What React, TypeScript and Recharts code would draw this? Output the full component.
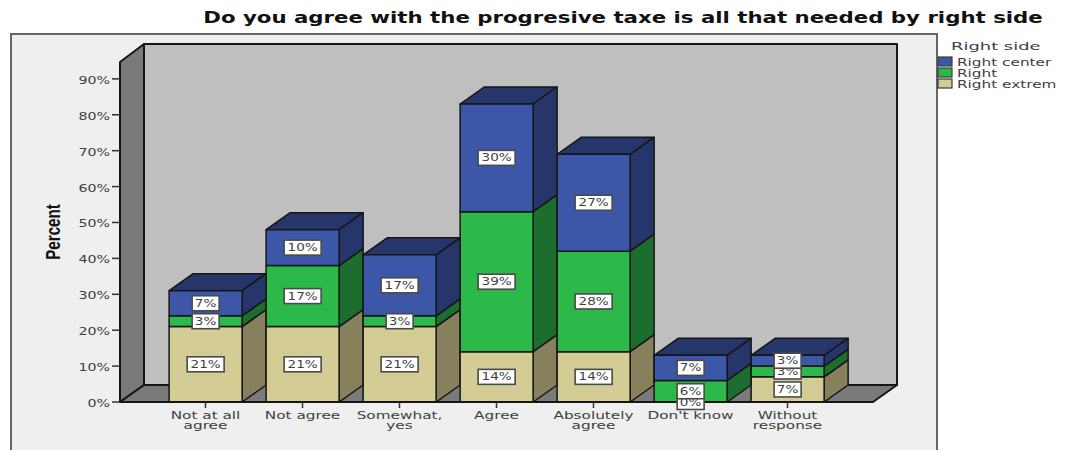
import React from "react";
import { Bar, BarChart, Customized, LabelList, Legend, XAxis, YAxis, usePlotArea } from "recharts";

const categories = ["Not at all|agree", "Not agree", "Somewhat,|yes", "Agree", "Absolutely|agree", "Don't know", "Without|response"];
const rightExtrem = [21, 21, 21, 14, 14, 0, 7];
const right = [3, 17, 3, 39, 28, 6, 3];
const rightCenter = [7, 10, 17, 30, 27, 7, 3];
const yTicks = [0, 10, 20, 30, 40, 50, 60, 70, 80, 90];

const rows = categories.map((name, i) => ({
  name,
  "Right extrem": rightExtrem[i],
  Right: right[i],
  "Right center": rightCenter[i],
}));

const DX = 24;
const DY = 17;
const EDGE = "#161616";
const FONT = "'DejaVu Sans', sans-serif";
const TEXT = "#3f3f3f";

// A stacked segment as a box: front face, right face and, on the top series, a lid.
const box = (side: string, lid: boolean) => (p: any) => {
  const { x, y, width: w, height: h, fill } = p;
  if (!h || h <= 0) return <g />;
  return (
    <g stroke={EDGE} strokeWidth={1.5} strokeLinejoin="round">
      {lid && <polygon fill={side} points={`${x},${y} ${x + DX},${y - DY} ${x + w + DX},${y - DY} ${x + w},${y}`} />}
      <polygon fill={side} points={`${x + w},${y} ${x + w + DX},${y - DY} ${x + w + DX},${y + h - DY} ${x + w},${y + h}`} />
      <rect x={x} y={y} width={w} height={h} fill={fill} />
    </g>
  );
};

// White value tag centred on its segment.
const tag = (p: any) => {
  const { x, y, width, height, value } = p;
  const cx = x + width / 2;
  const cy = y + height / 2;
  const w = String(value).length > 1 ? 37 : 27;
  return (
    <g>
      <rect x={cx - w / 2} y={cy - 7.5} width={w} height={15} fill="#fff" stroke="#4a4a4a" strokeWidth={1.6} />
      <text transform={`translate(${cx},${cy + 3.5}) scale(1.36,1)`} textAnchor="middle" fontFamily={FONT} fontSize={10} fill={TEXT}>
        {value}%
      </text>
    </g>
  );
};

const CategoryTick = (p: any) => {
  const lines = String(p.payload.value).split("|");
  return (
    <g>
      {lines.map((line, i) => (
        <text key={line} transform={`translate(${p.x},${419 + i * 9.5}) scale(1.53,1)`} textAnchor="middle" fontFamily={FONT} fontSize={10} fill={TEXT}>
          {line}
        </text>
      ))}
    </g>
  );
};

const PercentTick = (p: any) => (
  <text transform={`translate(${p.x},${p.y + 5}) scale(1.42,1)`} textAnchor="end" fontFamily={FONT} fontSize={10} fill={TEXT}>
    {p.payload.value}%
  </text>
);

const AxisTitle = () => (
  <text
    transform="translate(60,232) rotate(-90) scale(0.72,1)"
    textAnchor="middle"
    fontFamily="'Liberation Sans', sans-serif"
    fontWeight={700}
    fontSize={21}
    fill="#111"
  >
    Percent
  </text>
);

// Side wall, floor and back wall of the 3D plot box.
const Walls = () => {
  const a = usePlotArea();
  if (!a) return null;
  const l = a.x;
  const r = a.x + a.width;
  const t = a.y;
  const b = a.y + a.height;
  return (
    <g stroke={EDGE} strokeWidth={2} strokeLinejoin="round">
      <rect x={l + DX} y={t - DY - 1} width={r - l} height={a.height + 1} fill="#bfbfbf" />
      <polygon fill="#7a7a7a" points={`${l},${t} ${l + DX},${t - DY - 1} ${l + DX},${b - DY} ${l},${b}`} />
      <polygon fill="#7a7a7a" points={`${l},${b} ${l + DX},${b - DY} ${r + DX},${b - DY} ${r},${b}`} />
    </g>
  );
};

const LegendBlock = ({ payload }: any) => (
  <svg width={134} height={60} style={{ display: "block" }}>
    <text transform="translate(15,12) scale(1.63,1)" fontFamily={FONT} fontSize={11} fill={TEXT}>Right side</text>
    {[...(payload || [])].reverse().map((e: any, i: number) => (
      <g key={e.value}>
        <rect x={2} y={19 + i * 11} width={14} height={9} fill={e.color} stroke="#3a3a3a" strokeWidth={1.2} />
        <text transform={`translate(21,${28 + i * 11}) scale(1.53,1)`} fontFamily={FONT} fontSize={10} fill={TEXT}>{e.value}</text>
      </g>
    ))}
  </svg>
);

export default function App() {
  return (
    <div style={{ position: "absolute", left: 0, top: 0, width: 1070, height: 450, overflow: "hidden", background: "#fff" }}>
      <div style={{ position: "absolute", left: 10, top: 33, width: 924, height: 430, background: "#efefef", border: "2px solid #666" }} />
      <div style={{ position: "absolute", left: 0, top: 0 }}>
        <BarChart
          width={1070}
          height={450}
          data={rows}
          barCategoryGap="12.5%"
          margin={{ top: 62, right: 197, bottom: 0, left: 0 }}
        >
          <text transform="translate(623,23) scale(1.42,1)" textAnchor="middle" fontFamily={FONT} fontSize={15} fontWeight={700} fill="#111">
            Do you agree with the progresive taxe is all that needed by right side
          </text>
          <Customized component={Walls} />
          <AxisTitle />
          <XAxis
            dataKey="name"
            height={48}
            padding={{ left: 37, right: 37 }}
            interval={0}
            tick={CategoryTick}
            tickSize={6}
            axisLine={{ stroke: EDGE, strokeWidth: 2 }}
            tickLine={{ stroke: "#333", strokeWidth: 1.5 }}
          />
          <YAxis
            width={120}
            domain={[0, 94.7]}
            ticks={yTicks}
            allowDataOverflow
            tick={PercentTick}
            tickSize={8}
            axisLine={{ stroke: EDGE, strokeWidth: 2 }}
            tickLine={{ stroke: "#333", strokeWidth: 1.5 }}
          />
          <Legend
            layout="horizontal"
            verticalAlign="middle"
            align="center"
            itemSorter={null}
            content={LegendBlock}
            wrapperStyle={{ left: 936, top: 38, width: 134, height: 60 }}
          />
          <Bar dataKey="Right extrem" stackId="s" fill="#d3cd95" shape={box("#86805c", false)} isAnimationActive={false}>
            <LabelList dataKey="Right extrem" content={tag} />
          </Bar>
          <Bar dataKey="Right" stackId="s" fill="#2db84a" shape={box("#1c6e2e", false)} isAnimationActive={false}>
            <LabelList dataKey="Right" content={tag} />
          </Bar>
          <Bar dataKey="Right center" stackId="s" fill="#3c57a8" shape={box("#26366b", true)} isAnimationActive={false}>
            <LabelList dataKey="Right center" content={tag} />
          </Bar>
        </BarChart>
      </div>
    </div>
  );
}
